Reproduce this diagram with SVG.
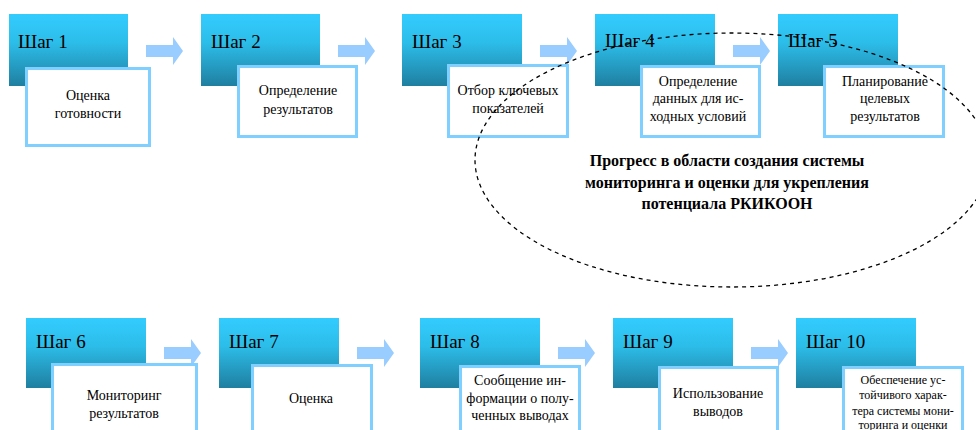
<svg xmlns="http://www.w3.org/2000/svg" width="976" height="430" viewBox="0 0 976 430" font-family="Liberation Serif, Times New Roman, serif">
<defs>
<linearGradient id="g" x1="0" y1="0" x2="0" y2="1">
<stop offset="0" stop-color="#33ccff"/>
<stop offset="0.4" stop-color="#2cbde9"/>
<stop offset="1" stop-color="#1f7fa0"/>
</linearGradient>
<path id="arr" d="M0,-6 H27 V-14 L37,0 L27,14 V6 H0 Z"/>
</defs>
<style>
.hd{fill:url(#g)}
.st{font-size:19px;fill:#000}
.bx{fill:#fff;stroke:#80d0ff;stroke-width:3}
.tx{font-size:14px;fill:#000;text-anchor:middle}
.sm{font-size:12px}
.ar{fill:#99ccff}
.el{fill:none;stroke:#000;stroke-width:1.3;stroke-dasharray:4 4}
.ct{font-size:16px;font-weight:bold;fill:#000;text-anchor:middle}
</style>
<rect width="976" height="430" fill="#fff"/>
<g id="connectors">
<use href="#arr" class="ar" x="146" y="51"/>
<use href="#arr" class="ar" x="338" y="51"/>
<use href="#arr" class="ar" x="540" y="51"/>
<use href="#arr" class="ar" x="733" y="51"/>
<use href="#arr" class="ar" x="164" y="353"/>
<use href="#arr" class="ar" x="357" y="353"/>
<use href="#arr" class="ar" x="558" y="353"/>
<use href="#arr" class="ar" x="751" y="353"/>
</g>
<g id="step1">
<rect class="hd" x="9" y="14" width="119" height="72"/>
<text class="st" x="18" y="48">Шаг 1</text>
<rect class="bx" x="26.5" y="68.5" width="123" height="77"/>
<text class="tx" x="88" y="100">Оценка</text>
<text class="tx" x="88" y="118">готовности</text>
</g>
<g id="step2">
<rect class="hd" x="201" y="14" width="119" height="72"/>
<text class="st" x="211" y="48">Шаг 2</text>
<rect class="bx" x="238.5" y="66.5" width="118" height="70"/>
<text class="tx" x="298" y="95">Определение</text>
<text class="tx" x="298" y="114">результатов</text>
</g>
<g id="step3">
<rect class="hd" x="402" y="14" width="120" height="72"/>
<text class="st" x="412" y="48">Шаг 3</text>
<rect class="bx" x="448.5" y="65.5" width="119" height="71"/>
<text class="tx" x="508" y="95">Отбор ключевых</text>
<text class="tx" x="508" y="113">показателей</text>
</g>
<g id="step4">
<rect class="hd" x="595" y="14" width="120" height="72"/>
<text class="st" x="605" y="47">Шаг 4</text>
<rect class="bx" x="641.5" y="66.5" width="118" height="70"/>
<text class="tx" x="698" y="86">Определение</text>
<text class="tx" x="698" y="103">данных для ис-</text>
<text class="tx" x="698" y="121">ходных условий</text>
</g>
<g id="step5">
<rect class="hd" x="778" y="14" width="120" height="72"/>
<text class="st" x="788" y="47">Шаг 5</text>
<rect class="bx" x="824.5" y="66.5" width="119" height="70"/>
<text class="tx" x="885" y="86">Планирование</text>
<text class="tx" x="885" y="103">целевых</text>
<text class="tx" x="885" y="121">результатов</text>
</g>
<g id="step6">
<rect class="hd" x="26" y="318" width="120" height="70"/>
<text class="st" x="36" y="348">Шаг 6</text>
<rect class="bx" x="52.5" y="364.5" width="144" height="80"/>
<text class="tx" x="124" y="400">Мониторинг</text>
<text class="tx" x="124" y="418">результатов</text>
</g>
<g id="step7">
<rect class="hd" x="219" y="318" width="120" height="70"/>
<text class="st" x="229" y="348">Шаг 7</text>
<rect class="bx" x="252.5" y="365.5" width="119" height="80"/>
<text class="tx" x="311" y="403">Оценка</text>
</g>
<g id="step8">
<rect class="hd" x="420" y="318" width="120" height="70"/>
<text class="st" x="430" y="348">Шаг 8</text>
<rect class="bx" x="460.5" y="366.5" width="119" height="80"/>
<text class="tx" x="520" y="385">Сообщение ин-</text>
<text class="tx" x="520" y="403">формации о полу-</text>
<text class="tx" x="520" y="420">ченных выводах</text>
</g>
<g id="step9">
<rect class="hd" x="613" y="318" width="120" height="70"/>
<text class="st" x="623" y="348">Шаг 9</text>
<rect class="bx" x="659.5" y="367.5" width="118" height="80"/>
<text class="tx" x="718" y="398">Использование</text>
<text class="tx" x="718" y="416">выводов</text>
</g>
<g id="step10">
<rect class="hd" x="796" y="318" width="120" height="70"/>
<text class="st" x="806" y="348">Шаг 10</text>
<rect class="bx" x="843.5" y="367.5" width="119" height="80"/>
<text class="tx sm" x="903" y="384">Обеспечение ус-</text>
<text class="tx sm" x="903" y="399">тойчивого харак-</text>
<text class="tx sm" x="903" y="415">тера системы мони-</text>
<text class="tx sm" x="903" y="429">торинга и оценки</text>
</g>
<g id="progress">
<ellipse class="el" cx="732" cy="160" rx="257" ry="127"/>
<text class="ct" x="727" y="166">Прогресс в области создания системы</text>
<text class="ct" x="727" y="188">мониторинга и оценки для укрепления</text>
<text class="ct" x="727" y="209">потенциала РКИКООН</text>
</g>
</svg>
